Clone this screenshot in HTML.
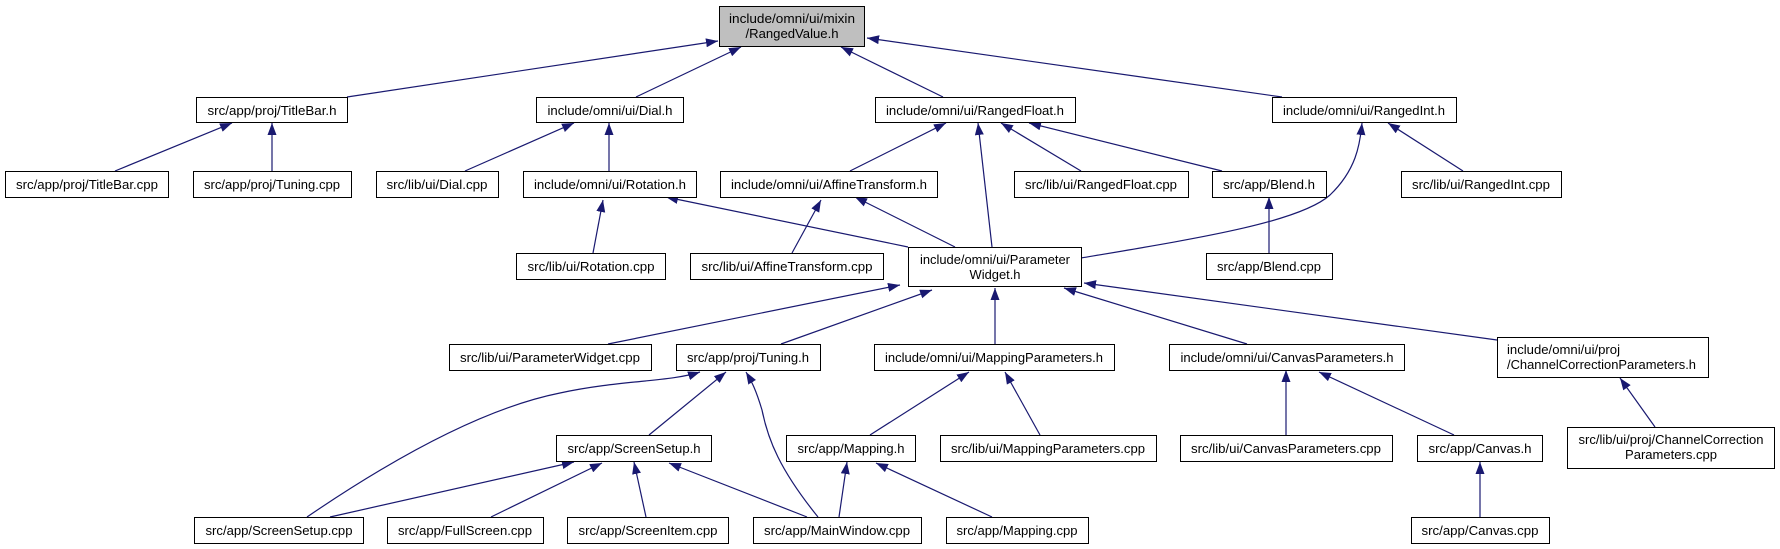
<!DOCTYPE html>
<html><head><meta charset="utf-8"><style>
html,body{margin:0;padding:0;background:#fff;}
svg{display:block;}
text{font-family:"Liberation Sans",Helvetica,sans-serif;font-size:13px;fill:#000;}
</style></head><body>
<svg width="1780" height="549" viewBox="0 0 1780 549" xmlns="http://www.w3.org/2000/svg">
<defs>
<marker id="a" viewBox="0 0 12 9" refX="12" refY="4.5" markerWidth="12" markerHeight="9" markerUnits="userSpaceOnUse" orient="auto">
<path d="M0,0 L12,4.5 L0,9 Z" fill="#191970"/>
</marker>
</defs>
<g stroke="#191970" stroke-width="1.2" fill="none" marker-end="url(#a)">
<path d="M347,97 L718,41"/>
<path d="M636,97 L741,47"/>
<path d="M943,97 L841,47"/>
<path d="M1282,97 L867,38"/>
<path d="M115,171 L232,123"/>
<path d="M272,171 L272,123"/>
<path d="M465,171 L574,123"/>
<path d="M609,171 L609,123"/>
<path d="M593,253 L603,200"/>
<path d="M908,247 L666,197"/>
<path d="M792,253 L821,200"/>
<path d="M955,247 L855,197"/>
<path d="M850,171 L946,123"/>
<path d="M992,247 L978,123"/>
<path d="M1081,171 L1001,123"/>
<path d="M1222,171 L1029,123"/>
<path d="M1081,258 C1200,238 1300,222 1330,195 C1356,170 1360,145 1362,123"/>
<path d="M1463,171 L1388,123"/>
<path d="M1269,253 L1269,197"/>
<path d="M608,344 L900,285"/>
<path d="M781,344 L932,290"/>
<path d="M995,344 L995,288"/>
<path d="M1247,344 L1064,288"/>
<path d="M1497,340 L1084,283"/>
<path d="M307,517 C420,440 500,405 560,393 C620,380 670,382 700,372"/>
<path d="M649,435 L726,372"/>
<path d="M818,517 C780,470 768,440 762,410 C756,390 752,382 746,372"/>
<path d="M870,435 L969,372"/>
<path d="M1040,435 L1005,372"/>
<path d="M1286,435 L1286,370"/>
<path d="M1454,435 L1319,372"/>
<path d="M1655,427 L1620,378"/>
<path d="M330,517 L574,462"/>
<path d="M491,517 L602,463"/>
<path d="M646,517 L634,462"/>
<path d="M807,517 L669,463"/>
<path d="M839,517 L847,462"/>
<path d="M992,517 L876,463"/>
<path d="M1480,517 L1480,462"/>
</g>
<g stroke="#000" stroke-width="1" fill="#fff">
<rect x="719.5" y="6.5" width="145" height="40" fill="#bfbfbf"/>
<rect x="196.5" y="97.5" width="151" height="25"/>
<rect x="536.5" y="97.5" width="147" height="25"/>
<rect x="875.5" y="97.5" width="200" height="25"/>
<rect x="1272.5" y="97.5" width="184" height="25"/>
<rect x="5.5" y="171.5" width="163" height="26"/>
<rect x="193.5" y="171.5" width="158" height="26"/>
<rect x="376.5" y="171.5" width="122" height="26"/>
<rect x="523.5" y="171.5" width="173" height="26"/>
<rect x="720.5" y="171.5" width="217" height="26"/>
<rect x="1014.5" y="171.5" width="174" height="26"/>
<rect x="1212.5" y="171.5" width="114" height="26"/>
<rect x="1401.5" y="171.5" width="160" height="26"/>
<rect x="516.5" y="253.5" width="149" height="26"/>
<rect x="690.5" y="253.5" width="193" height="26"/>
<rect x="908.5" y="247.5" width="173" height="39"/>
<rect x="1206.5" y="253.5" width="126" height="26"/>
<rect x="449.5" y="344.5" width="202" height="26"/>
<rect x="676.5" y="344.5" width="144" height="26"/>
<rect x="874.5" y="344.5" width="240" height="26"/>
<rect x="1169.5" y="344.5" width="235" height="26"/>
<rect x="1497.5" y="337.5" width="211" height="40"/>
<rect x="556.5" y="435.5" width="155" height="26"/>
<rect x="786.5" y="435.5" width="129" height="26"/>
<rect x="940.5" y="435.5" width="216" height="26"/>
<rect x="1180.5" y="435.5" width="212" height="26"/>
<rect x="1417.5" y="435.5" width="125" height="26"/>
<rect x="1567.5" y="427.5" width="207" height="41"/>
<rect x="194.5" y="517.5" width="169" height="26"/>
<rect x="387.5" y="517.5" width="156" height="26"/>
<rect x="567.5" y="517.5" width="161" height="26"/>
<rect x="753.5" y="517.5" width="168" height="26"/>
<rect x="946.5" y="517.5" width="142" height="26"/>
<rect x="1411.5" y="517.5" width="138" height="26"/>
</g>
<g text-anchor="middle">
<text x="792" y="23" textLength="126" lengthAdjust="spacingAndGlyphs">include/omni/ui/mixin</text>
<text x="792" y="38" textLength="93" lengthAdjust="spacingAndGlyphs">/RangedValue.h</text>
<text x="272" y="115" textLength="129" lengthAdjust="spacingAndGlyphs">src/app/proj/TitleBar.h</text>
<text x="610" y="115" textLength="125" lengthAdjust="spacingAndGlyphs">include/omni/ui/Dial.h</text>
<text x="975" y="115" textLength="178" lengthAdjust="spacingAndGlyphs">include/omni/ui/RangedFloat.h</text>
<text x="1364" y="115" textLength="162" lengthAdjust="spacingAndGlyphs">include/omni/ui/RangedInt.h</text>
<text x="87" y="189" textLength="142" lengthAdjust="spacingAndGlyphs">src/app/proj/TitleBar.cpp</text>
<text x="272" y="189" textLength="136" lengthAdjust="spacingAndGlyphs">src/app/proj/Tuning.cpp</text>
<text x="437" y="189" textLength="101" lengthAdjust="spacingAndGlyphs">src/lib/ui/Dial.cpp</text>
<text x="610" y="189" textLength="152" lengthAdjust="spacingAndGlyphs">include/omni/ui/Rotation.h</text>
<text x="829" y="189" textLength="196" lengthAdjust="spacingAndGlyphs">include/omni/ui/AffineTransform.h</text>
<text x="1101" y="189" textLength="152" lengthAdjust="spacingAndGlyphs">src/lib/ui/RangedFloat.cpp</text>
<text x="1269" y="189" textLength="92" lengthAdjust="spacingAndGlyphs">src/app/Blend.h</text>
<text x="1481" y="189" textLength="138" lengthAdjust="spacingAndGlyphs">src/lib/ui/RangedInt.cpp</text>
<text x="591" y="271" textLength="127" lengthAdjust="spacingAndGlyphs">src/lib/ui/Rotation.cpp</text>
<text x="787" y="271" textLength="171" lengthAdjust="spacingAndGlyphs">src/lib/ui/AffineTransform.cpp</text>
<text x="995" y="264" textLength="150" lengthAdjust="spacingAndGlyphs">include/omni/ui/Parameter</text>
<text x="995" y="279" textLength="51" lengthAdjust="spacingAndGlyphs">Widget.h</text>
<text x="1269" y="271" textLength="104" lengthAdjust="spacingAndGlyphs">src/app/Blend.cpp</text>
<text x="550" y="362" textLength="180" lengthAdjust="spacingAndGlyphs">src/lib/ui/ParameterWidget.cpp</text>
<text x="748" y="362" textLength="122" lengthAdjust="spacingAndGlyphs">src/app/proj/Tuning.h</text>
<text x="994" y="362" textLength="218" lengthAdjust="spacingAndGlyphs">include/omni/ui/MappingParameters.h</text>
<text x="1287" y="362" textLength="213" lengthAdjust="spacingAndGlyphs">include/omni/ui/CanvasParameters.h</text>
<text x="1507" y="354" text-anchor="start" textLength="113" lengthAdjust="spacingAndGlyphs">include/omni/ui/proj</text>
<text x="1507" y="369" text-anchor="start" textLength="189" lengthAdjust="spacingAndGlyphs">/ChannelCorrectionParameters.h</text>
<text x="634" y="453" textLength="133" lengthAdjust="spacingAndGlyphs">src/app/ScreenSetup.h</text>
<text x="851" y="453" textLength="107" lengthAdjust="spacingAndGlyphs">src/app/Mapping.h</text>
<text x="1048" y="453" textLength="194" lengthAdjust="spacingAndGlyphs">src/lib/ui/MappingParameters.cpp</text>
<text x="1286" y="453" textLength="190" lengthAdjust="spacingAndGlyphs">src/lib/ui/CanvasParameters.cpp</text>
<text x="1480" y="453" textLength="103" lengthAdjust="spacingAndGlyphs">src/app/Canvas.h</text>
<text x="1671" y="444" textLength="185" lengthAdjust="spacingAndGlyphs">src/lib/ui/proj/ChannelCorrection</text>
<text x="1671" y="459" textLength="92" lengthAdjust="spacingAndGlyphs">Parameters.cpp</text>
<text x="279" y="535" textLength="147" lengthAdjust="spacingAndGlyphs">src/app/ScreenSetup.cpp</text>
<text x="465" y="535" textLength="134" lengthAdjust="spacingAndGlyphs">src/app/FullScreen.cpp</text>
<text x="648" y="535" textLength="139" lengthAdjust="spacingAndGlyphs">src/app/ScreenItem.cpp</text>
<text x="837" y="535" textLength="146" lengthAdjust="spacingAndGlyphs">src/app/MainWindow.cpp</text>
<text x="1017" y="535" textLength="121" lengthAdjust="spacingAndGlyphs">src/app/Mapping.cpp</text>
<text x="1480" y="535" textLength="117" lengthAdjust="spacingAndGlyphs">src/app/Canvas.cpp</text>
</g>
</svg>
</body></html>
